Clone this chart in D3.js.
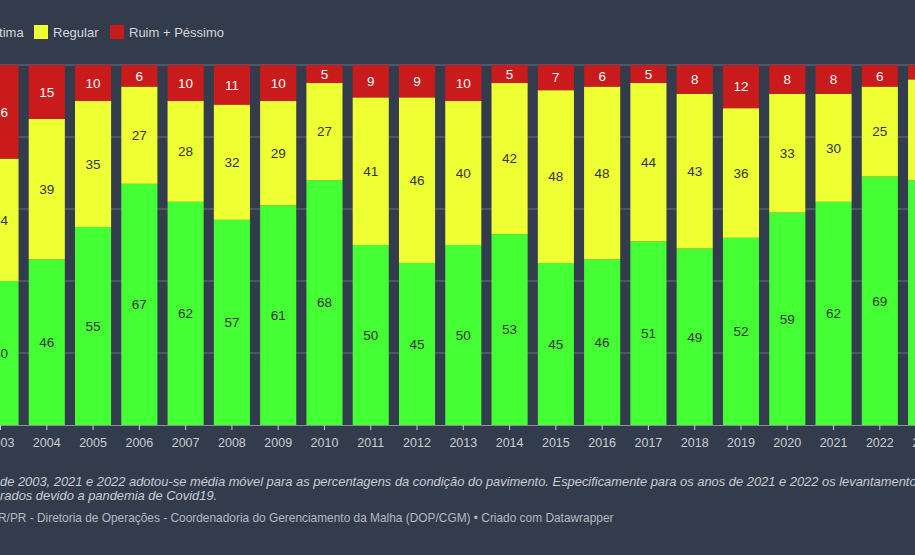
<!DOCTYPE html>
<html><head><meta charset="utf-8">
<script src="https://cdn.jsdelivr.net/npm/d3@7"></script>
<style>
html,body{margin:0;padding:0;background:#333c4c;overflow:hidden;}
svg{display:block;font-family:"Liberation Sans",Arial,Helvetica,sans-serif;}
</style></head>
<body>
<svg id="c" width="915" height="555"></svg>
<script>
const years = ["2003","2004","2005","2006","2007","2008","2009","2010","2011","2012","2013","2014","2015","2016","2017","2018","2019","2020","2021","2022","2023"];
const boaOtima   = [40,46,55,67,62,57,61,68,50,45,50,53,45,46,51,49,52,59,62,69,68];
const regular    = [34,39,35,27,28,32,29,27,41,46,40,42,48,48,44,43,36,33,30,25,28];
const ruimPessimo= [26,15,10,6,10,11,10,5,9,9,10,5,7,6,5,8,12,8,8,6,4];
const seriesNames = ["Boa + Ótima","Regular","Ruim + Péssimo"];
const seriesColors = ["#44ff33","#eeff33","#c91b1b"];
const labelColors = ["#333333","#333333","#ffffff"];
const yTicks = [0,20,40,60,80,100];
const noteLine1 = "de 2003, 2021 e 2022 adotou-se média móvel para as percentagens da condição do pavimento. Especificamente para os anos de 2021 e 2022 os levantamentos não foram";
const noteLine2 = "rados devido a pandemia de Covid19.";
const sourceText = "R/PR - Diretoria de Operações - Coordenadoria do Gerenciamento da Malha (DOP/CGM) • Criado com Datawrapper";

const rows = years.map((y,i)=>({year:y, a:boaOtima[i], b:regular[i], c:ruimPessimo[i]}));
const stack = d3.stack().keys(["a","b","c"])(rows);

const svg = d3.select("#c");
const step = 46.28, c0 = 0.5;
const x = d3.scaleBand().domain(years)
  .range([c0 - step/2, c0 + (years.length - 0.5)*step])
  .paddingInner(0.22).paddingOuter(0.11);
const y = d3.scaleLinear().domain([0,100]).range([425,65]);

// gridlines
svg.append("g").selectAll("line").data(yTicks.slice(1)).join("line")
  .attr("x1",-50).attr("x2",960)
  .attr("y1",d=>y(d)).attr("y2",d=>y(d))
  .attr("stroke","#6b7382").attr("stroke-width",1);

// bars
const g = svg.append("g");
stack.forEach((s,si)=>{
  g.append("g").selectAll("rect").data(s).join("rect")
    .attr("x",d=>x(d.data.year)).attr("width",x.bandwidth())
    .attr("y",d=>y(d[1])).attr("height",d=>y(d[0])-y(d[1]))
    .attr("fill",seriesColors[si]);
  g.append("g").selectAll("text").data(s).join("text")
    .attr("x",d=>x(d.data.year)+x.bandwidth()/2)
    .attr("y",d=>(y(d[0])+y(d[1]))/2)
    .attr("dy","0.35em").attr("text-anchor","middle")
    .attr("font-size",13.5).attr("fill",labelColors[si])
    .text(d=>d[1]-d[0]);
});

// x axis
const xa = svg.append("g").attr("transform","translate(0,425)")
  .call(d3.axisBottom(x).tickSize(5).tickPadding(8));
xa.select(".domain").attr("stroke","#8a909b").attr("d","M-50,0.5H960");
xa.selectAll(".tick line").attr("stroke","#c9ccd1");
xa.selectAll(".tick text").attr("fill","#c9ccd1").attr("font-size",12.5)
  .attr("font-family","Liberation Sans, Arial, sans-serif");

// legend
const lg = svg.append("g");
const legendX = [-68, 34, 110];
seriesNames.forEach((n,i)=>{
  lg.append("rect").attr("x",legendX[i]).attr("y",25).attr("width",14).attr("height",14).attr("fill",seriesColors[i]);
  lg.append("text").attr("x",legendX[i]+19).attr("y",32).attr("dy","0.35em")
    .attr("font-size",13).attr("fill","#d3d6db").text(n);
});

// notes
svg.append("text").attr("x",0).attr("y",486).attr("font-size",12.9).attr("font-style","italic")
  .attr("fill","#c9ccd1").text(noteLine1);
svg.append("text").attr("x",0).attr("y",500).attr("font-size",12.9).attr("font-style","italic")
  .attr("fill","#c9ccd1").text(noteLine2);
svg.append("text").attr("x",-2).attr("y",522).attr("font-size",11.9)
  .attr("fill","#b3b8c0").text(sourceText);
</script>
</body></html>
